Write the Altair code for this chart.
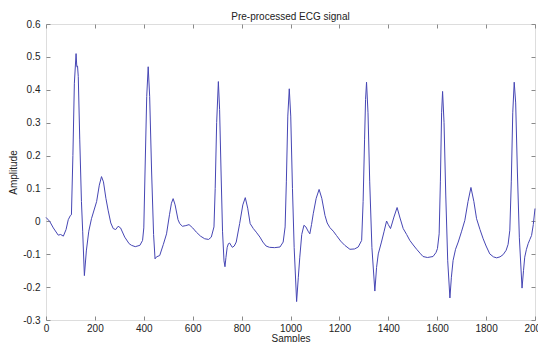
import altair as alt
import pandas as pd

samples = [
    0, 15, 30, 50, 60, 71, 82, 91, 100, 104, 110, 116, 123, 126, 129, 132, 138, 145, 150, 157,
    165, 175, 186, 207, 218, 227, 235, 245, 254, 265, 275, 285, 295, 305, 322, 340, 350, 365, 384, 395,
    400, 405, 412, 418, 424, 432, 440, 446, 452, 465, 480, 493, 505, 513, 520, 528, 540, 547, 558, 572,
    585, 600, 615, 632, 649, 665, 676, 687,
    692, 698, 705, 710, 716, 722, 728, 732, 736, 741, 746, 751, 756, 762, 770, 778, 792, 805, 815, 825,
    835, 848, 860, 875, 887, 900, 914, 935, 957, 970, 978,
    983, 989, 995, 1001, 1008, 1015, 1025, 1032, 1038, 1046, 1055, 1063, 1072, 1079, 1086, 1093, 1105,
    1117, 1128, 1141, 1150, 1161, 1175, 1188, 1205, 1222, 1243, 1262, 1277, 1291,
    1297, 1303, 1307, 1311, 1317, 1324, 1333, 1345, 1352, 1359, 1372, 1383, 1393, 1400, 1409, 1416,
    1423, 1436, 1448, 1461, 1475, 1488, 1502, 1516, 1530, 1542, 1560, 1583, 1595, 1601, 1608,
    1613, 1618, 1622, 1628, 1635, 1643, 1652, 1658, 1665, 1675, 1686, 1700, 1713, 1726, 1738, 1750,
    1761, 1775, 1788, 1800, 1815, 1830, 1843, 1857, 1870, 1882, 1890, 1897,
    1903, 1909, 1915, 1921, 1928, 1936, 1947, 1953, 1958, 1965, 1972, 1979, 1986, 1993, 2000,
]
amplitude = [
    0.012, 0.0, -0.02, -0.042, -0.04, -0.045, -0.025, 0.005, 0.018, 0.02, 0.2, 0.42, 0.51, 0.47, 0.472, 0.44, 0.25, 0.06, -0.03, -0.165,
    -0.09, -0.03, 0.008, 0.06, 0.11, 0.136, 0.12, 0.07, 0.034, -0.005, -0.022, -0.025, -0.015, -0.02, -0.048, -0.068, -0.073, -0.077, -0.073, -0.058,
    -0.02, 0.15, 0.38, 0.47, 0.38, 0.15, -0.04, -0.114, -0.108, -0.104, -0.07, -0.038, 0.02, 0.055, 0.069, 0.05, 0.005, -0.007, -0.015, -0.013,
    -0.01, -0.02, -0.033, -0.045, -0.053, -0.055, -0.048, -0.017,
    0.1, 0.3, 0.425, 0.34, 0.15, -0.03, -0.12, -0.138, -0.11, -0.079, -0.068, -0.066, -0.072, -0.079, -0.075, -0.063, -0.007, 0.05, 0.072, 0.04,
    -0.007, -0.022, -0.033, -0.048, -0.063, -0.075, -0.079, -0.08, -0.078, -0.063, -0.017,
    0.12, 0.32, 0.403, 0.32, 0.1, -0.08, -0.244, -0.17, -0.109, -0.04, -0.012, -0.017, -0.03, -0.038, -0.01, 0.023, 0.07,
    0.097, 0.07, 0.018, -0.005, -0.019, -0.03, -0.043, -0.06, -0.073, -0.085, -0.084, -0.078, -0.058,
    0.06, 0.25, 0.37, 0.423, 0.33, 0.12, -0.08, -0.212, -0.14, -0.099, -0.063, -0.03, 0.001, -0.01, -0.022, -0.005,
    0.013, 0.042, 0.01, -0.022, -0.04, -0.058, -0.072, -0.085, -0.097, -0.107, -0.11, -0.107, -0.095, -0.083, -0.038,
    0.12, 0.33, 0.395, 0.3, 0.08, -0.12, -0.233, -0.17, -0.119, -0.085, -0.063, -0.03, 0.003, 0.06, 0.103, 0.06,
    0.008, -0.025, -0.053, -0.075, -0.099, -0.108, -0.111, -0.108, -0.101, -0.088, -0.07, -0.027,
    0.12, 0.33, 0.423, 0.36, 0.15, -0.05, -0.203, -0.15, -0.109, -0.085, -0.068, -0.055, -0.043, -0.01, 0.039,
]
x_ticks = [0, 200, 400, 600, 800, 1000, 1200, 1400, 1600, 1800, 2000]
y_ticks = [-0.3, -0.2, -0.1, 0, 0.1, 0.2, 0.3, 0.4, 0.5, 0.6]

df = pd.DataFrame({"Samples": samples, "Amplitude": amplitude})

FONT = "Liberation Sans"
TXT = "#222222"
FRAME = "#8a8a8a"

xscale = alt.Scale(domain=[0, 2000], nice=False, zero=False)
yscale = alt.Scale(domain=[-0.3, 0.6], nice=False, zero=False)

line = alt.Chart(df).mark_line(color="#4646b4", strokeWidth=1).encode(
    x=alt.X("Samples:Q", scale=xscale,
            axis=alt.Axis(values=x_ticks, title="Samples", offset=-4, domain=False, grid=False,
                          tickSize=4, tickColor=FRAME, labelPadding=3, labelFontSize=10,
                          labelFont=FONT, labelColor=TXT, titleFont=FONT, titleFontSize=10,
                          titleFontWeight="normal", titleColor=TXT, titlePadding=0,
                          labelFlush=False, format="d")),
    y=alt.Y("Amplitude:Q", scale=yscale,
            axis=alt.Axis(values=y_ticks, title="Amplitude", offset=-4, domain=False, grid=False,
                          tickSize=4, tickColor=FRAME, labelPadding=6, labelFontSize=10,
                          labelFont=FONT, labelColor=TXT, titleFont=FONT, titleFontSize=10,
                          titleFontWeight="normal", titleColor=TXT, titlePadding=4,
                          labelFlush=False,
                          labelExpr="datum.value === 0 ? '0' : toString(datum.value)")),
)

frame_ticks = alt.Chart(df).mark_line(opacity=0).encode(
    x=alt.X("Samples:Q", scale=xscale,
            axis=alt.Axis(values=x_ticks, orient="top", title=None, labels=False, offset=-4,
                          domain=False, grid=False, tickSize=4, tickColor=FRAME)),
    y=alt.Y("Amplitude:Q", scale=yscale,
            axis=alt.Axis(values=y_ticks, orient="right", title=None, labels=False, offset=-4,
                          domain=False, grid=False, tickSize=4, tickColor=FRAME)),
)

chart = alt.layer(line, frame_ticks).resolve_scale(x="independent", y="independent").properties(
    width=489,
    height=296,
    title=alt.TitleParams("Pre-processed ECG signal", fontSize=10, fontWeight="normal",
                          font=FONT, color=TXT, offset=4, dy=7),
    autosize=alt.AutoSizeParams(type="none"),
    padding={"left": 38, "top": 16, "right": 3, "bottom": 30},
).configure_view(stroke=FRAME, strokeWidth=1).configure(background="white")

chart.save("out.html", embed_options={"renderer": "svg", "actions": False})
